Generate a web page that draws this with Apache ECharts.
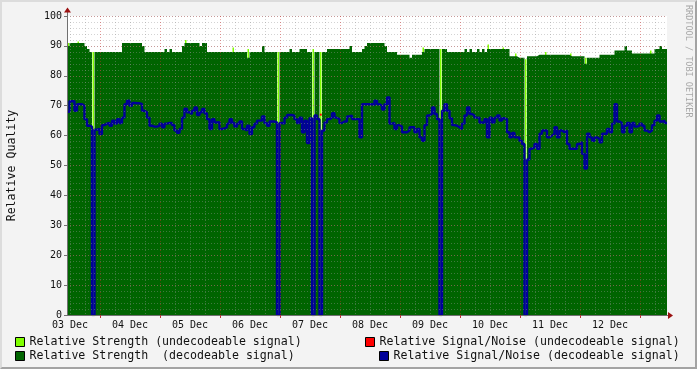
<!DOCTYPE html>
<html><head><meta charset="utf-8">
<script src="https://cdn.jsdelivr.net/npm/echarts@6/dist/echarts.min.js"></script>
<style>
html,body{margin:0;padding:0;background:#f3f3f3;}
#wrap{position:relative;width:697px;height:369px;}
#chart{width:697px;height:369px;}
#frame{position:absolute;left:0;top:0;width:697px;height:369px;box-sizing:border-box;border-top:2px solid #dcdcdc;border-left:2px solid #dcdcdc;border-right:2px solid #a3a3a3;border-bottom:2px solid #a3a3a3;pointer-events:none;}
</style></head><body>
<div id="wrap"><div id="chart"></div><div id="frame"></div></div>
<script>
// ---- data (one sample per hour, starting 03 Dec ~10:48) ----
const dayLabels = ['03 Dec','04 Dec','05 Dec','06 Dec','07 Dec','08 Dec','09 Dec','10 Dec','11 Dec','12 Dec'];
const yTicks = [0,10,20,30,40,50,60,70,80,90,100];

// Relative Strength (decodeable signal)
const strengthDecodeable = [
 90,91,91,91,91,91,91,90,89,88,
 0,88,88,88,88,88,88,88,88,88,
 88,88,91,91,91,91,91,91,91,91,
 90,88,88,88,88,88,88,88,88,89,
 88,89,88,88,88,88,90,91,91,91,
 91,91,91,90,91,91,88,88,88,88,
 88,88,88,88,88,88,88,88,88,88,
 88,88,86,88,88,88,88,88,90,88,
 88,88,88,88,0,88,88,88,88,89,
 88,88,88,89,89,89,88,88,0,88,
 88,0,88,88,89,89,89,89,89,89,
 89,89,89,90,88,88,88,88,89,90,
 91,91,91,91,91,91,91,90,88,88,
 88,88,87,87,87,87,87,86,87,87,
 87,87,88,89,89,89,89,89,89,0,
 89,89,88,88,88,88,88,88,88,89,
 88,89,88,88,89,88,89,88,89,89,
 89,89,89,89,89,89,89,86.5,86.5,86.5,
 86,86,86,0,86.5,86.5,86.5,86.5,87,87,
 87,87,87,87,87,87,87,87,87,87,
 87,86.5,86.5,86.5,86.5,86.5,86.5,84,86,86,
 86,86,86,87,87,87,87,87,87,88.5,
 88.5,88.5,88.5,90,88.5,88.5,87.5,87.5,87.5,87.5,
 87.5,87.5,87.5,87.5,87.5,89,89,90,89,89
];
// Relative Strength (undecodeable signal) - only where it shows
const undecHours  = [0, 4, 10, 47, 66, 72, 84, 98, 101, 142, 149, 168, 174, 179, 183, 191, 201, 207, 233];
const undecValues = [91,91.5,88,92, 89.5,89, 88, 89, 88, 89.5, 89, 90.5, 89.5, 87.5, 85.5, 88, 87.5, 86, 88.5];

// Relative Signal/Noise (decodeable signal)
const snrDecodeable = [
 68,71.5,71.5,68.3,70.5,70.5,70,65.5,63.3,63,
 0,62,62.2,60.5,63.5,64,64.2,63.3,65,64,
 65.5,64.2,66,70.5,71.7,70,70.9,70.8,70.8,70.6,
 68.3,67.8,66,63.3,63,63,63.3,64,62.8,64,
 64.2,64.2,63.5,61.7,60.9,62.2,66,69,67.8,67.2,
 68.3,69.4,66.9,67.8,68.9,67.5,65.5,62.2,65.5,64.4,
 64.5,62.2,62.4,62.8,64,65.5,64.2,63,64,64.7,
 62.2,61.7,63.3,60.5,62.8,64,65,65,66.4,64.2,
 63.3,64.7,64.7,64.4,0,64.2,64,66,66.9,66.9,
 66.7,65.5,64.2,66,61.1,65,57.5,65.8,0,66.7,
 65.5,0,61.7,64.4,65.5,66,67.5,66,65.5,64.2,
 64.7,64.7,66.4,66.7,65.5,65.5,65.5,59.4,70.5,70.5,
 70.5,70.5,70.2,71.7,70.5,70,68.7,70.5,72.8,64,
 64.2,62.2,63.5,63,61.1,61.1,61.7,62.8,62.8,61.1,
 62.2,59.4,58.3,63.5,66.7,67.2,69.4,67.2,65.5,0,
 68.3,70.5,68.3,65.8,63.5,63.3,62.8,62.2,64,66.7,
 69.4,67.2,66.7,66,66,64.4,64.2,65.5,59.4,66,
 64.4,66,66.7,65,65.8,65.5,61.1,59.4,60.9,59.4,
 59.4,58.3,57.2,0,52,55.6,56.1,57.2,55.6,60.6,
 61.7,61.7,59.4,60,60.6,62.8,59.4,61.7,61.1,61.7,
 57.2,55.6,55.6,55.6,57.2,57.8,53.9,49,60.6,59.4,
 58.3,59.4,58.9,57.8,60.6,60.6,62.2,61.1,64,70.5,
 64.7,64.2,61.1,63.3,64.2,61.1,64.2,63,63.3,64,
 63.3,61.7,61.1,61.7,63.5,65,66.7,64.7,65,64.2
];
// Relative Signal/Noise (undecodeable signal)
const snrUndecHours = [101];
const snrUndecValues = [67];

const N_HOURS = 240;

// ---- build ----
const MONO = 'DejaVu Sans Mono';
const NAME_S_UNDEC = 'Relative Strength (undecodeable signal)';
const NAME_N_UNDEC = 'Relative Signal/Noise (undecodeable signal)';
const NAME_S_DEC = 'Relative Strength  (decodeable signal)';
const NAME_N_DEC = 'Relative Signal/Noise (decodeable signal)';

function stepPairs(arr){
  const p = arr.map((v,i)=>[i,v]);
  p.push([arr.length, arr[arr.length-1]]);
  return p;
}
// 12-minute slots for grid/label axes (5 per hour)
const SLOTS = N_HOURS*5 + 1;
const slotCats = Array.from({length:SLOTS}, (_,j)=>String(j));
// slot 6 = 03 Dec 12:00 ; 120 slots per day
const isNoon = j => (j-6) % 120 === 0;
const isMinor = j => (j-6) % 30 === 0;
const isMidnight = j => (j-66) % 120 === 0 && j >= 66;

const L=67, T=16, W=600, H=299;
const chart = echarts.init(document.getElementById('chart'), null, {renderer:'canvas'});
const gridGray = 'rgba(150,150,150,0.42)';
const gridRed = 'rgba(205,40,40,0.45)';

const option = {
  backgroundColor: '#f3f3f3',
  animation: false,
  grid: {left:L, top:T, width:W, height:H, show:true, backgroundColor:'#ffffff', borderWidth:0,
         containLabel:false, outerBoundsMode:'none'},
  xAxis: [
    {type:'value', min:0, max:N_HOURS, show:false},
    {type:'category', data:slotCats, boundaryGap:false, position:'bottom', z:5,
     axisLine:{show:true, onZero:false, lineStyle:{color:'#707070', width:1}},
     axisTick:{show:false},
     axisLabel:{interval:(i)=>isNoon(i), margin:5, fontFamily:MONO, fontSize:10, color:'#111',
       formatter:(v)=>{const j=Number(v); return isNoon(j)? (dayLabels[(j-6)/120]||'') : '';}},
     splitLine:{show:true, interval:(i)=>isMinor(i) && !isMidnight(i), lineStyle:{color:gridGray, type:[1,2], width:1}}
    },
    {type:'category', data:slotCats, boundaryGap:false, position:'bottom', z:5,
     axisLine:{show:false},
     axisTick:{show:true, interval:(i)=>isMidnight(i), length:3, lineStyle:{color:'#c03030'}},
     axisLabel:{show:false},
     splitLine:{show:true, interval:(i)=>isMidnight(i), lineStyle:{color:gridRed, type:[1,2], width:1}}
    }
  ],
  yAxis: [
    {type:'value', min:0, max:100, interval:10, position:'left', z:5,
     name:'Relative Quality', nameLocation:'middle', nameGap:49,
     nameTextStyle:{fontFamily:MONO, fontSize:11.6, color:'#111'},
     axisLine:{show:true, lineStyle:{color:'#707070'}},
     axisTick:{show:true, length:3, lineStyle:{color:'#707070'}},
     axisLabel:{margin:5, fontFamily:MONO, fontSize:10, color:'#111',
       formatter:(v)=> yTicks.indexOf(v)>=0 ? String(v) : ''},
     splitLine:{show:true, lineStyle:{color:gridRed, type:[1,2], width:1}}
    },
    {type:'value', min:0, max:100, interval:2, position:'left', z:5,
     axisLine:{show:false}, axisTick:{show:false}, axisLabel:{show:false},
     splitLine:{show:true, lineStyle:{color:gridGray, type:[1,2], width:1}}
    }
  ],
  legend: [
    {data:[NAME_S_UNDEC], left:15, top:336},
    {data:[NAME_N_UNDEC], left:365, top:336},
    {data:[NAME_S_DEC], left:15, top:350},
    {data:[NAME_N_DEC], left:379, top:350}
  ].map(l => Object.assign({
      padding:0, icon:'rect', itemWidth:9, itemHeight:9, selectedMode:false,
      itemStyle:{borderColor:'#000', borderWidth:1},
      textStyle:{fontFamily:MONO, fontSize:11.6, color:'#111'}
    }, l)),
  series: [
    {name:NAME_S_UNDEC, type:'bar', xAxisIndex:0, yAxisIndex:0, z:1,
     color:'#80ff00', barWidth:1.5,
     data: undecHours.map((h,i)=>[h+0.5, undecValues[i]])},
    {name:NAME_S_DEC, type:'line', xAxisIndex:0, yAxisIndex:0, z:2,
     color:'#006400', step:'end', symbol:'none', showSymbol:false,
     lineStyle:{width:0}, areaStyle:{color:'#006400', opacity:1},
     data: stepPairs(strengthDecodeable)},
    {name:NAME_N_UNDEC, type:'line', xAxisIndex:0, yAxisIndex:0, z:3,
     color:'#ff0000', symbol:'rect', symbolSize:[2,2], showSymbol:true,
     data: snrUndecHours.map((h,i)=>[h+0.5, snrUndecValues[i]])},
    {name:NAME_N_DEC, type:'line', xAxisIndex:0, yAxisIndex:0, z:3,
     color:'#000099', step:'end', symbol:'none', showSymbol:false,
     lineStyle:{width:2.4, color:'#000099'},
     data: stepPairs(snrDecodeable)}
  ],
  graphic: [
    {type:'line', z:10, shape:{x1:L+0.5, y1:T, x2:L+0.5, y2:T-6}, style:{stroke:'#707070', lineWidth:1}},
    {type:'polygon', z:10, shape:{points:[[L-3,T-3.5],[L+4,T-3.5],[L+0.5,T-8.5]]}, style:{fill:'#9b1111'}},
    {type:'line', z:10, shape:{x1:L+W, y1:T+H+0.5, x2:L+W+3, y2:T+H+0.5}, style:{stroke:'#707070', lineWidth:1}},
    {type:'polygon', z:10, shape:{points:[[L+W+1,T+H-3],[L+W+1,T+H+4],[L+W+6,T+H+0.5]]}, style:{fill:'#9b1111'}},
    {type:'text', z:10, x:688, y:5, rotation:-Math.PI/2,
     style:{text:'RRDTOOL / TOBI OETIKER', fill:'#a8a8a8', font:'8.5px "DejaVu Sans Mono"', textAlign:'left', textVerticalAlign:'middle'}}
  ]
};
chart.setOption(option);
</script>
</body></html>
